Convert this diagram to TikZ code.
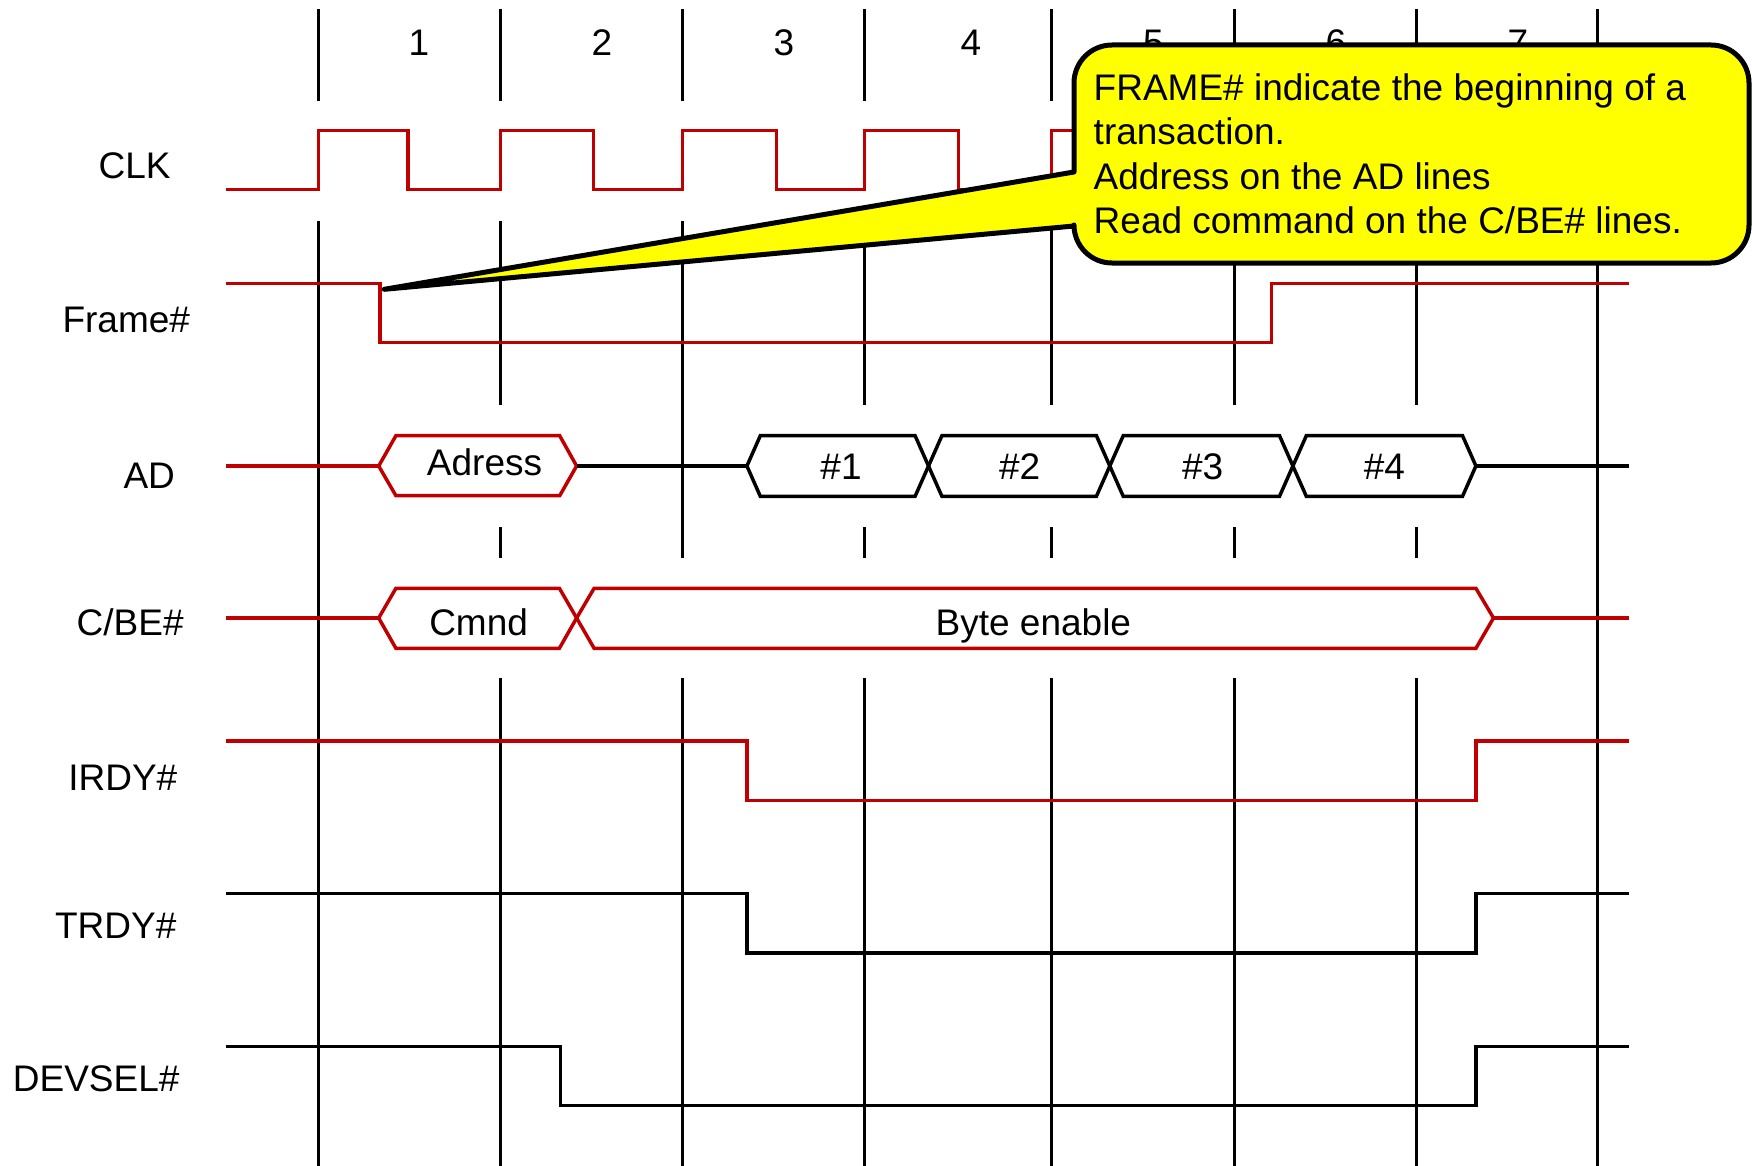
\documentclass[tikz,border=0pt]{standalone}
\usepackage{fontspec}
\setmainfont{Liberation Sans}
\definecolor{sigred}{RGB}{192,0,0}
\definecolor{noteyellow}{RGB}{255,255,0}
\begin{document}
\begin{tikzpicture}[x=1pt,y=-1pt,
  gridline/.style={line width=3pt,black},
  redsig/.style={line width=3.3pt,sigred},
  blacksig/.style={line width=3.3pt,black},
  redbus/.style={line width=3.5pt,sigred,line join=miter},
  blackbus/.style={line width=3.5pt,black,line join=miter},
  lbl/.style={font=\fontsize{37}{44.4}\selectfont,inner sep=0pt,anchor=base},
  notetext/.style={font=\fontsize{37}{44.4}\selectfont,inner sep=0pt,anchor=base west},
  callout/.style={line width=5pt,black,fill=noteyellow,line join=round}
]
\useasboundingbox (0,0) rectangle (1752,1166);

% clock period grid
\foreach \x in {318.4,500.6,682.7,864.8,1051.4,1234.7,1416.8,1597.8}
  \draw[gridline] (\x,9) -- (\x,100.6);
\foreach \x in {318.4,1597.8}
  \draw[gridline] (\x,221) -- (\x,1166);
\draw[gridline] (682.7,221) -- (682.7,557.5) (682.7,678) -- (682.7,1166);
\foreach \x in {500.6,864.8,1051.4,1234.7,1416.8}
  \draw[gridline] (\x,221) -- (\x,404.5) (\x,527) -- (\x,557.5) (\x,678) -- (\x,1166);

% cycle numbers
\foreach \x/\n in {419/1,602/2,784/3,971/4,1153.5/5,1336/6,1518/7}
  \node[lbl] (cyc\n) at (\x,56) {\n};

% signal names
\node[lbl] (nclk)    at (134.6,178.6) {CLK};
\node[lbl] (nframe)  at (126.3,332.8) {Frame\#};
\node[lbl] (nad)     at (149.2,488)   {AD};
\node[lbl] (ncbe)    at (130.2,635.6) {C/BE\#};
\node[lbl] (nirdy)   at (122.8,790)   {IRDY\#};
\node[lbl] (ntrdy)   at (115.7,938.3) {TRDY\#};
\node[lbl] (ndevsel) at (96.2,1091)   {DEVSEL\#};

% CLK
\draw[redsig] (226,189.5) -- (318.4,189.5) -- (318.4,130.7) -- (408,130.7) -- (408,189.5)
  -- (500.6,189.5) -- (500.6,130.7) -- (593.3,130.7) -- (593.3,189.5)
  -- (682.7,189.5) -- (682.7,130.7) -- (776.5,130.7) -- (776.5,189.5)
  -- (864.8,189.5) -- (864.8,130.7) -- (958.7,130.7) -- (958.7,189.5)
  -- (1051.4,189.5) -- (1051.4,130.7) -- (1143,130.7) -- (1143,189.5)
  -- (1234.7,189.5) -- (1234.7,130.7) -- (1326,130.7) -- (1326,189.5)
  -- (1416.8,189.5) -- (1416.8,130.7) -- (1508,130.7) -- (1508,189.5)
  -- (1597.8,189.5) -- (1597.8,130.7) -- (1629,130.7);

% Frame#
\draw[redsig] (226,283.3) -- (380,283.3) -- (380,342.7) -- (1271.5,342.7)
  -- (1271.5,283.3) -- (1629,283.3);

% AD
\draw[redsig] (226,466) -- (378.7,466);
\draw[redbus] (378.7,466) -- (395.9,435.7) -- (559.7,435.7) -- (576.6,466)
  -- (559.7,495.7) -- (395.9,495.7) -- cycle;
\draw[blacksig] (576.6,466) -- (746.9,466);
\foreach \a/\b in {746.9/928.5,928.5/1109.8,1109.8/1292.9,1292.9/1475.9}
  \draw[blackbus] (\a,466) -- (\a+13.4,435.7) -- (\b-13.4,435.7) -- (\b,466)
    -- (\b-13.4,496.3) -- (\a+13.4,496.3) -- cycle;
\draw[blacksig] (1475.9,466) -- (1629,466);
\node[lbl] (tadr) at (484.5,475)   {Adress};
\node[lbl] (td1)  at (841,479.3)   {\#1};
\node[lbl] (td2)  at (1019.6,479.3) {\#2};
\node[lbl] (td3)  at (1202.7,479.3) {\#3};
\node[lbl] (td4)  at (1384.4,479.3) {\#4};

% C/BE#
\draw[redsig] (226,618) -- (378.7,618);
\draw[redbus] (378.7,618) -- (395.9,588.3) -- (559.4,588.3) -- (576.6,618)
  -- (559.4,648.3) -- (395.9,648.3) -- cycle;
\draw[redbus] (576.6,618) -- (594.1,588.3) -- (1475.9,588.3) -- (1493.5,618)
  -- (1475.9,648.3) -- (594.1,648.3) -- cycle;
\draw[redsig] (1493.5,618) -- (1629,618);
\node[lbl] (tcmd)  at (478.6,635)   {Cmnd};
\node[lbl] (tbyte) at (1033.4,635)  {Byte enable};

% IRDY#
\draw[redsig] (226,741) -- (747,741) -- (747,800.5) -- (1476,800.5)
  -- (1476,741) -- (1629,741);
% TRDY#
\draw[blacksig] (226,893.5) -- (747,893.5) -- (747,953) -- (1476,953)
  -- (1476,893.5) -- (1629,893.5);
% DEVSEL#
\draw[blacksig] (226,1046.5) -- (560.5,1046.5) -- (560.5,1105.5) -- (1476,1105.5)
  -- (1476,1046.5) -- (1629,1046.5);

% note with pointer to the falling edge of Frame#
\coordinate (ctip) at (384.3,289.3);
\coordinate (cupper) at (1074,172);
\coordinate (clower) at (1074,226);
\draw[callout] (ctip) -- (cupper) -- (1074,83)
  arc[start angle=180,end angle=270,radius=38] -- (1711,45)
  arc[start angle=270,end angle=360,radius=38] -- (1749,225)
  arc[start angle=0,end angle=90,radius=38] -- (1112,263)
  arc[start angle=90,end angle=180,radius=38] -- (clower) -- cycle;
\node[notetext] (note1) at (1093.5,100.5) {FRAME\# indicate the beginning of a};
\node[notetext] (note2) at (1093.5,144.9) {transaction.};
\node[notetext] (note3) at (1093.5,189.3) {Address on the AD lines};
\node[notetext] (note4) at (1093.5,233.7) {Read command on the C/BE\# lines.};
\end{tikzpicture}
\end{document}
